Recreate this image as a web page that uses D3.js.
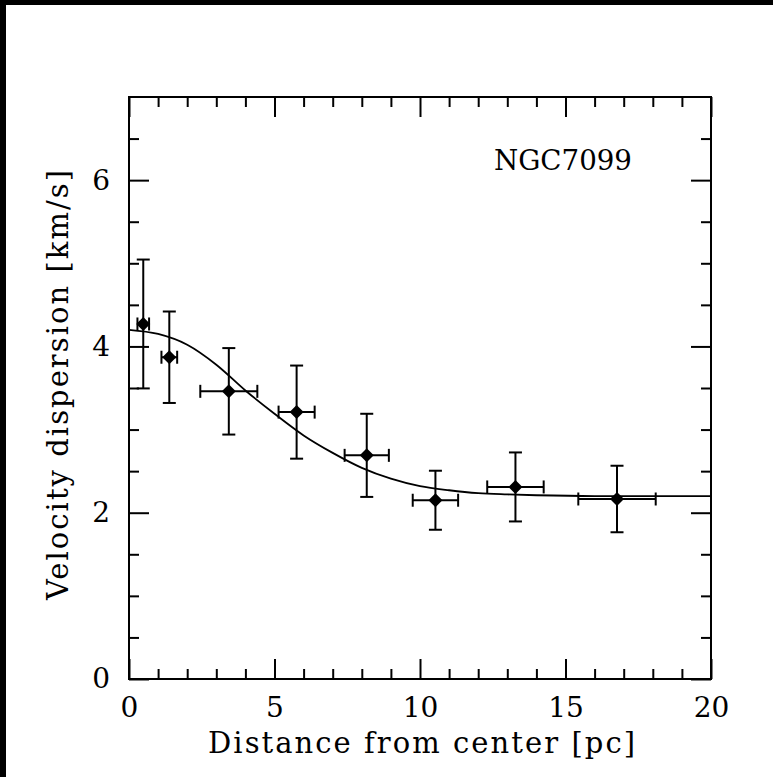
<!DOCTYPE html>
<html>
<head>
<meta charset="utf-8">
<script src="https://cdn.jsdelivr.net/npm/d3@7"></script>
<style>
  body { margin: 0; background: #fff; }
  text { font-family: "DejaVu Serif", serif; fill: #000; }
</style>
</head>
<body>
<div id="chart"></div>
<script>
// measured points: distance from center (pc) and velocity dispersion (km/s)
var distance    = [0.49, 1.385, 3.43, 5.76, 8.17, 10.53, 13.28, 16.77];
var distanceErr = [0.2, 0.27, 0.98, 0.62, 0.76, 0.78, 0.97, 1.33];
var dispersion    = [4.27, 3.87, 3.46, 3.21, 2.69, 2.15, 2.31, 2.165];
var dispersionErr = [0.775, 0.55, 0.52, 0.56, 0.50, 0.355, 0.415, 0.40];

// fitted profile
var fitDistance   = [0, 1, 2, 3, 4, 5, 6, 7, 8, 9, 10, 11, 12, 13, 14, 16, 20];
var fitDispersion = [4.20, 4.15, 4.02, 3.78, 3.47, 3.19, 2.93, 2.72, 2.54, 2.41, 2.32, 2.27, 2.235, 2.22, 2.21, 2.20, 2.20];

var xMajor = [0, 5, 10, 15, 20];
var xMinor = [1, 2, 3, 4, 6, 7, 8, 9, 11, 12, 13, 14, 16, 17, 18, 19];
var yMajor = [0, 2, 4, 6];
var yMinor = [0.5, 1, 1.5, 2.5, 3, 3.5, 4.5, 5, 5.5, 6.5];

var W = 773, H = 777;
var mLeft = 129, mRight = 711, mTop = 97, mBottom = 679;

var svg = d3.select("#chart")
  .append("svg")
    .attr("width", W)
    .attr("height", H);

// dark bands at the edge of the original screenshot
svg.append("rect").attr("x", 0).attr("y", 0).attr("width", W).attr("height", 5).attr("fill", "#000");
svg.append("rect").attr("x", 0).attr("y", 0).attr("width", 6).attr("height", H).attr("fill", "#000");

var x = d3.scaleLinear().domain([0, 20]).range([mLeft, mRight]);
var y = d3.scaleLinear().domain([0, 7]).range([mBottom, mTop]);

function styleAxis(g) {
  g.select(".domain").remove();
  g.selectAll(".tick line").attr("stroke", "#000").attr("stroke-width", 2);
  g.selectAll(".tick text").attr("font-size", 28).attr("font-family", "DejaVu Serif");
}

// bottom
svg.append("g").attr("transform", "translate(0," + mBottom + ")")
  .call(d3.axisBottom(x).tickValues(xMajor).tickSize(-20).tickSizeOuter(0).tickPadding(18).tickFormat(d3.format("d")))
  .call(styleAxis);
svg.append("g").attr("transform", "translate(0," + mBottom + ")")
  .call(d3.axisBottom(x).tickValues(xMinor).tickSize(-10).tickSizeOuter(0).tickFormat(""))
  .call(styleAxis);
// top
svg.append("g").attr("transform", "translate(0," + mTop + ")")
  .call(d3.axisTop(x).tickValues(xMajor).tickSize(-20).tickSizeOuter(0).tickFormat(""))
  .call(styleAxis);
svg.append("g").attr("transform", "translate(0," + mTop + ")")
  .call(d3.axisTop(x).tickValues(xMinor).tickSize(-10).tickSizeOuter(0).tickFormat(""))
  .call(styleAxis);
// left
svg.append("g").attr("transform", "translate(" + mLeft + ",0)")
  .call(d3.axisLeft(y).tickValues(yMajor).tickSize(-20).tickSizeOuter(0).tickPadding(19).tickFormat(d3.format("d")))
  .call(styleAxis);
svg.append("g").attr("transform", "translate(" + mLeft + ",0)")
  .call(d3.axisLeft(y).tickValues(yMinor).tickSize(-10).tickSizeOuter(0).tickFormat(""))
  .call(styleAxis);
// right
svg.append("g").attr("transform", "translate(" + mRight + ",0)")
  .call(d3.axisRight(y).tickValues(yMajor).tickSize(-20).tickSizeOuter(0).tickFormat(""))
  .call(styleAxis);
svg.append("g").attr("transform", "translate(" + mRight + ",0)")
  .call(d3.axisRight(y).tickValues(yMinor).tickSize(-10).tickSizeOuter(0).tickFormat(""))
  .call(styleAxis);

// frame
svg.append("rect")
  .attr("x", mLeft).attr("y", mTop)
  .attr("width", mRight - mLeft).attr("height", mBottom - mTop)
  .attr("fill", "none").attr("stroke", "#000").attr("stroke-width", 2);

// fit curve
var line = d3.line()
  .x(function(d, i) { return x(fitDistance[i]); })
  .y(function(d) { return y(d); })
  .curve(d3.curveMonotoneX);
svg.append("path")
  .datum(fitDispersion)
  .attr("d", line)
  .attr("fill", "none")
  .attr("stroke", "#000")
  .attr("stroke-width", 1.8);

// error bars
var cap = 6.5;
var pts = svg.append("g").selectAll("g")
  .data(distance)
  .enter()
  .append("g")
    .attr("stroke", "#000")
    .attr("stroke-width", 2);

pts.append("line")
  .attr("x1", function(d) { return x(d); })
  .attr("x2", function(d) { return x(d); })
  .attr("y1", function(d, i) { return y(dispersion[i] - dispersionErr[i]); })
  .attr("y2", function(d, i) { return y(dispersion[i] + dispersionErr[i]); });
pts.append("line")
  .attr("x1", function(d) { return x(d) - cap; })
  .attr("x2", function(d) { return x(d) + cap; })
  .attr("y1", function(d, i) { return y(dispersion[i] + dispersionErr[i]); })
  .attr("y2", function(d, i) { return y(dispersion[i] + dispersionErr[i]); });
pts.append("line")
  .attr("x1", function(d) { return x(d) - cap; })
  .attr("x2", function(d) { return x(d) + cap; })
  .attr("y1", function(d, i) { return y(dispersion[i] - dispersionErr[i]); })
  .attr("y2", function(d, i) { return y(dispersion[i] - dispersionErr[i]); });

pts.append("line")
  .attr("x1", function(d, i) { return x(d - distanceErr[i]); })
  .attr("x2", function(d, i) { return x(d + distanceErr[i]); })
  .attr("y1", function(d, i) { return y(dispersion[i]); })
  .attr("y2", function(d, i) { return y(dispersion[i]); });
pts.append("line")
  .attr("x1", function(d, i) { return x(d - distanceErr[i]); })
  .attr("x2", function(d, i) { return x(d - distanceErr[i]); })
  .attr("y1", function(d, i) { return y(dispersion[i]) - cap; })
  .attr("y2", function(d, i) { return y(dispersion[i]) + cap; });
pts.append("line")
  .attr("x1", function(d, i) { return x(d + distanceErr[i]); })
  .attr("x2", function(d, i) { return x(d + distanceErr[i]); })
  .attr("y1", function(d, i) { return y(dispersion[i]) - cap; })
  .attr("y2", function(d, i) { return y(dispersion[i]) + cap; });

// diamonds
svg.append("g").selectAll("path")
  .data(distance)
  .enter()
  .append("path")
    .attr("d", "M0,-7L7,0L0,7L-7,0Z")
    .attr("transform", function(d, i) { return "translate(" + x(d) + "," + y(dispersion[i]) + ")"; })
    .attr("fill", "#000");

// labels
svg.append("text")
  .attr("x", 494).attr("y", 170)
  .attr("font-size", 28)
  .attr("textLength", 138)
  .attr("lengthAdjust", "spacingAndGlyphs")
  .text("NGC7099");

svg.append("text")
  .attr("x", 208).attr("y", 753)
  .attr("font-size", 29)
  .attr("textLength", 427)
  .attr("lengthAdjust", "spacing")
  .text("Distance from center [pc]");

svg.append("text")
  .attr("transform", "translate(68," + 600 + ") rotate(-90)")
  .attr("font-size", 29)
  .attr("textLength", 430)
  .attr("lengthAdjust", "spacing")
  .text("Velocity dispersion [km/s]");
</script>
</body>
</html>
